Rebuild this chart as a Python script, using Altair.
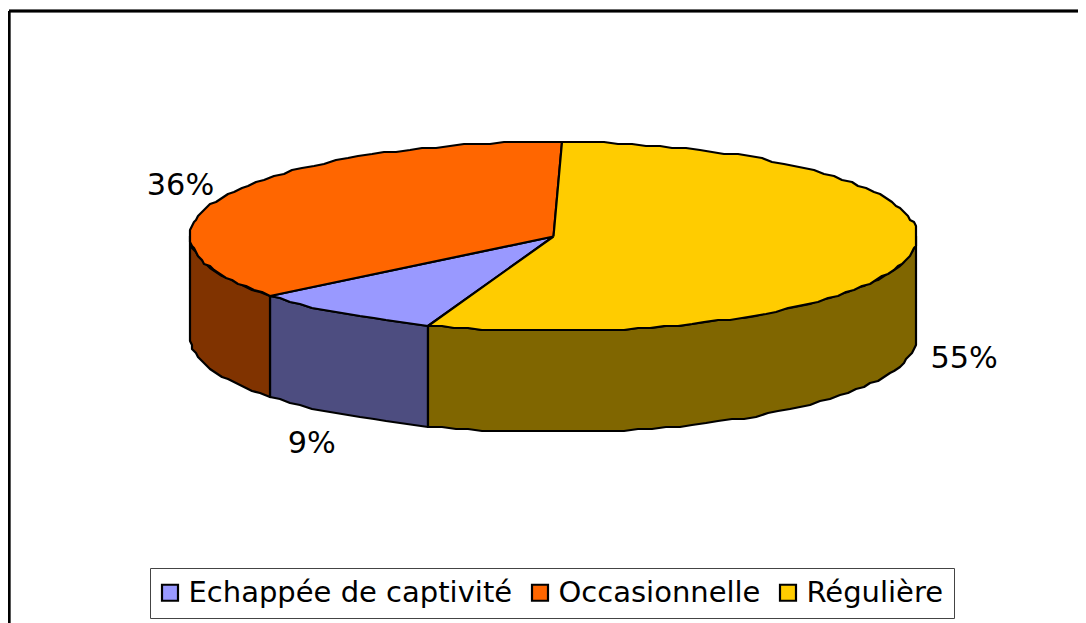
import numpy as np
import pandas as pd
import altair as alt

categories = ["Echappée de captivité", "Occasionnelle", "Régulière"]
shares = [8.6, 36.15, 55.25]
labels = ["9%", "36%", "55%"]
top_colors = ["#9999FF", "#FF6600", "#FFCC00"]
side_colors = ["#4D4D80", "#803300", "#806600"]

CX, CY, RX, RY, DEPTH = 553.5, 236.5, 363.5, 94.5, 101
START = 1.3          # first slice (Régulière) starts here, clockwise from the top
GRID = 2.0           # the reference's outline is snapped to a coarse pixel grid
W, H = 1069, 612
OX, OY = 9, 11


def snap(v):
    return np.round(np.asarray(v) / GRID) * GRID


def rim(a, b):
    n = max(2, int(abs(b - a) / 2.2))
    t = np.radians(np.linspace(a, b, n))
    return snap(CX + RX * np.sin(t)), snap(CY - RY * np.cos(t))


# slice spans in pie angle, clockwise
a_reg = (START, START + shares[2] * 3.6)
a_ech = (a_reg[1], a_reg[1] + shares[0] * 3.6)
a_occ = (a_ech[1], a_ech[1] + shares[1] * 3.6)
spans = {categories[0]: a_ech, categories[1]: a_occ, categories[2]: a_reg}

top_rows, side_rows, label_rows = [], [], []
for cat, lab in zip(categories, labels):
    a, b = spans[cat]
    xs, ys = rim(a, b)
    xs = [CX, *xs, CX]
    ys = [CY, *ys, CY]
    for i, (x, y) in enumerate(zip(xs, ys)):
        top_rows.append({"cat": cat, "x": x, "y": y, "i": i})
    # visible part of the wall: lower half of the rim
    lo, hi = max(a, 90), min(b, 270)
    if lo < hi:
        xs, ys = rim(lo, hi)
        px = [*xs, *xs[::-1], xs[0]]
        py = [*ys, *(ys[::-1] + DEPTH), ys[0]]
        for i, (x, y) in enumerate(zip(px, py)):
            side_rows.append({"cat": cat, "x": x, "y": y, "i": i})
    mid = np.radians((a + b) / 2)
    k = 1.15
    drop = DEPTH if np.cos(mid) < 0 else -4
    extra = 17 if cat == categories[0] else 0
    nudge = 2 if np.sin(mid) < 0 else 0
    label_rows.append({
        "text": lab,
        "x": CX + RX * k * np.sin(mid) + nudge,
        "y": CY - RY * k * np.cos(mid) + drop + extra + 1.5,
    })

tops = pd.DataFrame(top_rows)
sides = pd.DataFrame(side_rows)
texts = pd.DataFrame(label_rows)

xs = alt.X("x:Q", axis=None, scale=alt.Scale(domain=[OX, OX + W], nice=False, zero=False))
ys = alt.Y("y:Q", axis=None, scale=alt.Scale(domain=[OY + H, OY], nice=False, zero=False))

frame_left = alt.Chart(texts).mark_rule(color="black", strokeWidth=2.6).encode(
    x=alt.value(0), y=alt.value(0), y2=alt.value(H))
frame_top = alt.Chart(texts).mark_rule(color="black", strokeWidth=2.6).encode(
    y=alt.value(0), x=alt.value(0), x2=alt.value(W))

side_layer = alt.Chart(sides).mark_line(stroke="black", strokeWidth=2.2, strokeJoin="round").encode(
    x=xs, y=ys, order="i:Q",
    fill=alt.Fill("cat:N", legend=None, scale=alt.Scale(domain=categories, range=side_colors)),
)

legend = alt.Legend(
    orient="none", legendX=141, legendY=557, direction="horizontal", columns=3,
    title=None, symbolType="square", symbolSize=256, symbolStrokeColor="black",
    symbolStrokeWidth=2.2, symbolOpacity=1, labelFont="DejaVu Sans", labelFontSize=29,
    labelColor="black", labelLimit=500, columnPadding=14, padding=10,
    strokeColor="#444444", fillColor="white", symbolOffset=-4.5, labelOffset=4,
)

top_layer = alt.Chart(tops).mark_line(stroke="black", strokeWidth=2.2, strokeJoin="round").encode(
    x=xs, y=ys, order="i:Q",
    fill=alt.Fill("cat:N", legend=legend, sort=categories,
                  scale=alt.Scale(domain=categories, range=top_colors)),
)

text_layer = alt.Chart(texts).mark_text(
    font="DejaVu Sans", fontSize=30.3, color="black", align="center", baseline="middle"
).encode(x=xs, y=ys, text="text:N")

chart = (
    alt.layer(frame_left, frame_top, side_layer, top_layer, text_layer)
    .resolve_scale(fill="independent")
    .properties(
        width=W, height=H,
        padding={"left": 1, "top": 3, "right": 0, "bottom": 0},
        autosize=alt.AutoSizeParams(type="none"),
        background="white",
    )
    .configure_view(stroke=None, fill="white")
)

chart.save("out.html", embed_options={"renderer": "svg", "actions": False})
